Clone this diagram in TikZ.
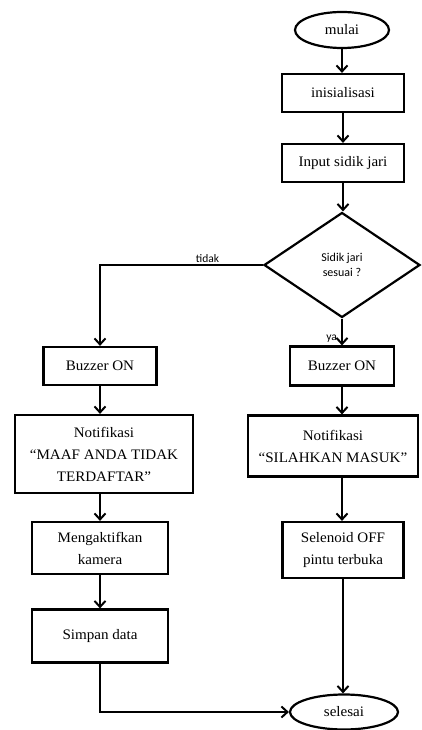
\documentclass[tikz,border=0pt]{standalone}
\usepackage{fontspec}
\setmainfont{Liberation Serif}[FakeStretch=1.04]
\newfontfamily\dfont{Carlito}
\usetikzlibrary{shapes.geometric,arrows.meta}
\begin{document}
\begin{tikzpicture}[x=1pt,y=-1pt,
  base/.style={draw=black,line width=2.2pt,inner sep=2pt,align=center,
    font=\fontsize{14.5}{22}\selectfont},
  proc/.style={base,rectangle},
  term/.style={base,ellipse,inner sep=0pt},
  deci/.style={draw=black,line width=2.2pt,diamond,inner sep=0pt,align=center,
    minimum width=156pt,minimum height=105pt,font=\dfont\fontsize{12}{15}\selectfont},
  conn/.style={line width=2.2pt,-{Straight Barb[length=6pt,width=11pt,line width=2pt]}},
  lbl/.style={font=\dfont\fontsize{11.5}{13}\selectfont,inner sep=1pt}]
\useasboundingbox (0,0) rectangle (422,730);
\node[term,minimum width=94pt,minimum height=36pt] (mulai) at (342,30) {mulai};
\node[proc,minimum width=122pt,minimum height=38pt] (init) at (343,93) {inisialisasi};
\node[proc,minimum width=122pt,minimum height=38pt] (input) at (343,163) {Input sidik jari};
\node[deci] (dia) at (342,265) {Sidik jari\\sesuai ?};
\node[proc,minimum width=113pt,minimum height=38pt] (lbuz) at (100,366) {Buzzer ON};
\node[proc,minimum width=178pt,minimum height=78pt] (lnot) at (104,454) {Notifikasi\\“MAAF ANDA TIDAK\\TERDAFTAR”};
\node[proc,minimum width=136pt,minimum height=52pt] (lcam) at (100,548) {Mengaktifkan\\kamera};
\node[proc,minimum width=136pt,minimum height=53pt] (lsim) at (100,636) {Simpan data};
\node[proc,minimum width=104pt,minimum height=39pt] (rbuz) at (342,366) {Buzzer ON};
\node[proc,minimum width=170pt,minimum height=61pt] (rnot) at (333,446) {Notifikasi\\“SILAHKAN MASUK”};
\node[proc,minimum width=121pt,minimum height=56pt] (rsol) at (343,550) {Selenoid OFF\\pintu terbuka};
\node[term,minimum width=108pt,minimum height=35pt] (sel) at (344,712) {selesai};

\draw[conn] (mulai.south) -- (mulai.south |- init.north);
\draw[conn] (init.south) -- (init.south |- input.north);
\draw[conn] (input.south) -- (input.south |- dia.north);
\draw[conn] (dia.west) -| node[lbl,pos=0.17,above] {tidak} (lbuz.north);
\draw[conn] (dia.south) -- node[lbl,pos=0.75,left=3pt] {ya} (dia.south |- rbuz.north);
\draw[conn] (lbuz.south) -- (lbuz.south |- lnot.north);
\draw[conn] (lbuz.south |- lnot.south) -- (lcam.north);
\draw[conn] (lcam.south) -- (lsim.north);
\draw[conn] (lsim.south) |- (sel.west);
\draw[conn] (rbuz.south) -- (rbuz.south |- rnot.north);
\draw[conn] (rbuz.south |- rnot.south) -- (rbuz.south |- rsol.north);
\draw[conn] (rsol.south) -- (rsol.south |- sel.north);
\end{tikzpicture}
\end{document}
